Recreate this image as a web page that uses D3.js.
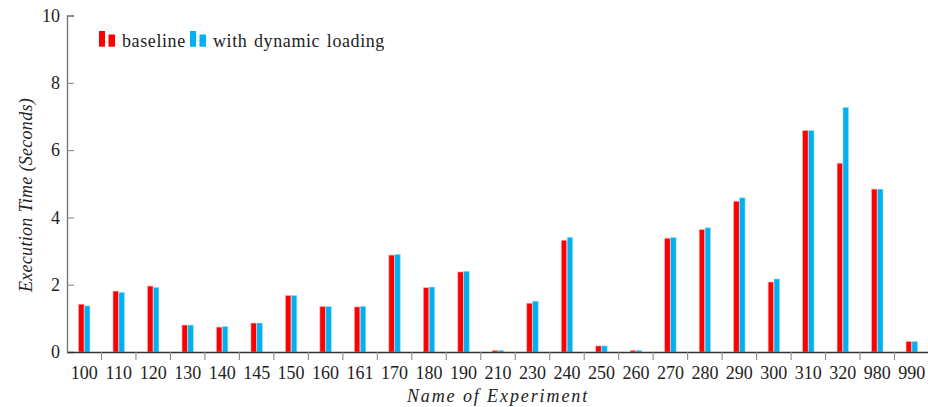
<!DOCTYPE html>
<html>
<head>
<meta charset="utf-8">
<script src="https://cdn.jsdelivr.net/npm/d3@7"></script>
<style>
  body { margin: 0; background: #fff; }
</style>
</head>
<body>
<div id="chart"></div>
<script>
// data
const experiments = ["100","110","120","130","140","145","150","160","161","170","180","190","210","230","240","250","260","270","280","290","300","310","320","980","990"];
const baseline = [1.42,1.81,1.96,0.80,0.74,0.86,1.68,1.35,1.34,2.88,1.91,2.38,0.05,1.45,3.32,0.18,0.05,3.38,3.64,4.48,2.08,6.58,5.61,4.84,0.31];
const dynamicLoading = [1.37,1.77,1.92,0.80,0.76,0.86,1.68,1.35,1.36,2.90,1.93,2.40,0.05,1.51,3.41,0.18,0.05,3.40,3.69,4.58,2.17,6.58,7.27,4.84,0.31];
const seriesNames = ["baseline", "with dynamic loading"];
const yTicks = [0, 2, 4, 6, 8, 10];

const colors = ["#ff0000", "#00b0f0"];
const edge = ["#ffb0b0", "#9fdcf6"];
const font = "'Liberation Serif', 'Times New Roman', serif";

const width = 928, height = 407;
const margin = { top: 15.5, right: -1, bottom: 55, left: 67 };

const svg = d3.select("#chart").append("svg")
  .attr("width", width)
  .attr("height", height);

const x0 = d3.scaleBand()
  .domain(experiments)
  .range([margin.left, width - margin.right]);

const x1 = d3.scaleBand()
  .domain(seriesNames)
  .range([0, 11.4])
  .paddingInner(0.07);

const y = d3.scaleLinear()
  .domain([0, 10])
  .range([height - margin.bottom, margin.top]);

const rows = experiments.map((e, i) => ({ name: e, values: [baseline[i], dynamicLoading[i]] }));

// bars
const groups = svg.append("g").selectAll("g")
  .data(rows)
  .enter().append("g")
  .attr("transform", d => "translate(" + (x0(d.name) + x0.bandwidth() / 2 - 5.7) + ",0)");

groups.selectAll("rect")
  .data(d => d.values.map((v, k) => ({ k: k, v: v })))
  .enter().append("rect")
  .attr("x", d => x1(seriesNames[d.k]))
  .attr("width", x1.bandwidth())
  .attr("y", d => y(d.v))
  .attr("height", d => y(0) - y(d.v))
  .attr("fill", d => colors[d.k])
  .attr("stroke", d => edge[d.k])
  .attr("stroke-width", 0.6);

// y axis
const yAxis = svg.append("g")
  .attr("transform", "translate(" + margin.left + ",0)")
  .call(d3.axisRight(y).tickValues(yTicks).tickSize(7).tickFormat(""));
yAxis.select(".domain").attr("stroke", "#707070").attr("stroke-width", 1.3);
yAxis.selectAll(".tick line").attr("stroke", "#8a8a8a").attr("stroke-width", 1.1);

svg.append("g").selectAll("text")
  .data(yTicks)
  .enter().append("text")
  .attr("x", margin.left - 7)
  .attr("y", d => y(d))
  .attr("dy", "0.35em")
  .attr("text-anchor", "end")
  .style("font-family", font)
  .style("fill", "#222")
  .style("font-size", "18px")
  .text(d => d);

// x axis
const xAxis = svg.append("g")
  .attr("transform", "translate(0," + y(0) + ")")
  .call(d3.axisBottom(x0).tickSize(0).tickFormat(""));
xAxis.select(".domain").attr("stroke", "#333").attr("stroke-width", 1.3);

// separators between categories
svg.append("g").selectAll("line")
  .data(experiments.slice(1))
  .enter().append("line")
  .attr("x1", d => x0(d))
  .attr("x2", d => x0(d))
  .attr("y1", y(0))
  .attr("y2", y(0) + 8)
  .attr("stroke", "#8a8a8a")
  .attr("stroke-width", 1.1);

svg.append("g").selectAll("text")
  .data(experiments)
  .enter().append("text")
  .attr("x", d => x0(d) + x0.bandwidth() / 2)
  .attr("y", 379)
  .attr("text-anchor", "middle")
  .style("font-family", font)
  .style("fill", "#222")
  .style("font-size", "18px")
  .text(d => d);

// axis titles
svg.append("text")
  .attr("x", 498)
  .attr("y", 402)
  .attr("text-anchor", "middle")
  .style("font-family", font)
  .style("fill", "#222")
  .style("font-size", "18px")
  .style("font-style", "italic")
  .style("letter-spacing", "1.9px")
  .text("Name of Experiment");

svg.append("text")
  .attr("transform", "translate(32,195) rotate(-90)")
  .attr("text-anchor", "middle")
  .style("font-family", font)
  .style("fill", "#222")
  .style("font-size", "18px")
  .style("font-style", "italic")
  .style("letter-spacing", "0.3px")
  .text("Execution Time (Seconds)");

// legend
const legendX = [99, 190];
const legend = svg.append("g").selectAll("g")
  .data(seriesNames)
  .enter().append("g")
  .attr("transform", (d, i) => "translate(" + legendX[i] + ",0)");

legend.append("rect")
  .attr("x", 0).attr("y", 31).attr("width", 6).attr("height", 15.7)
  .attr("fill", (d, i) => colors[i]);
legend.append("rect")
  .attr("x", 9.5).attr("y", 34.5).attr("width", 6.5).attr("height", 12.2)
  .attr("fill", (d, i) => colors[i]);
legend.append("text")
  .attr("x", 23)
  .attr("y", 47)
  .style("font-family", font)
  .style("fill", "#222")
  .style("font-size", "18px")
  .style("letter-spacing", "0.6px")
  .style("word-spacing", "1.5px")
  .text(d => d);
</script>
</body>
</html>
